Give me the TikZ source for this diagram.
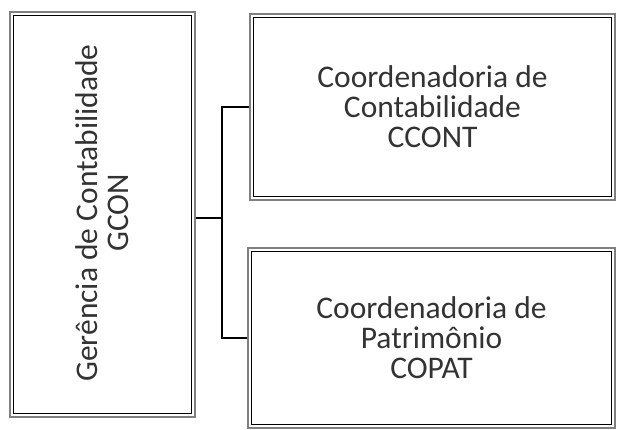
\documentclass[tikz,border=0pt]{standalone}
\usepackage{fontspec}
\setmainfont{Carlito}
\begin{document}
\begin{tikzpicture}[x=1pt,y=1pt,
  box/.style={draw=black!50, line width=1.6pt, fill=white, inner sep=0pt, align=center, font=\fontsize{31.5}{30}\selectfont, text=black!80},
  inner/.style={draw=black, line width=1.2pt},
  conn/.style={draw=black, line width=1.2pt}]
\useasboundingbox (0,0) rectangle (617,-430);
\node[box, minimum width=185, minimum height=405] (L) at (102.5,-214.5) {};
\node[rotate=90, inner sep=0pt, align=center, font=\fontsize{31.5}{31}\selectfont, text=black!80] (Lt) at (102,-213) {Gerência de Contabilidade\\GCON};
\node[box, minimum width=365, minimum height=186] (A) at (432.5,-107) {Coordenadoria de\\Contabilidade\\CCONT};
\node[box, minimum width=367, minimum height=180] (B) at (431.5,-338) {Coordenadoria de\\Patrimônio\\COPAT};
\foreach \n in {L,A,B}{
  \draw[inner] ([shift={(4,-4)}]\n.north west) rectangle ([shift={(-4,4)}]\n.south east);
}
\coordinate (j) at (222,-218);
\draw[conn] (L.east |- j) -- (j);
\draw[conn] (A.west) -| (j) |- (B.west);
\end{tikzpicture}
\end{document}
